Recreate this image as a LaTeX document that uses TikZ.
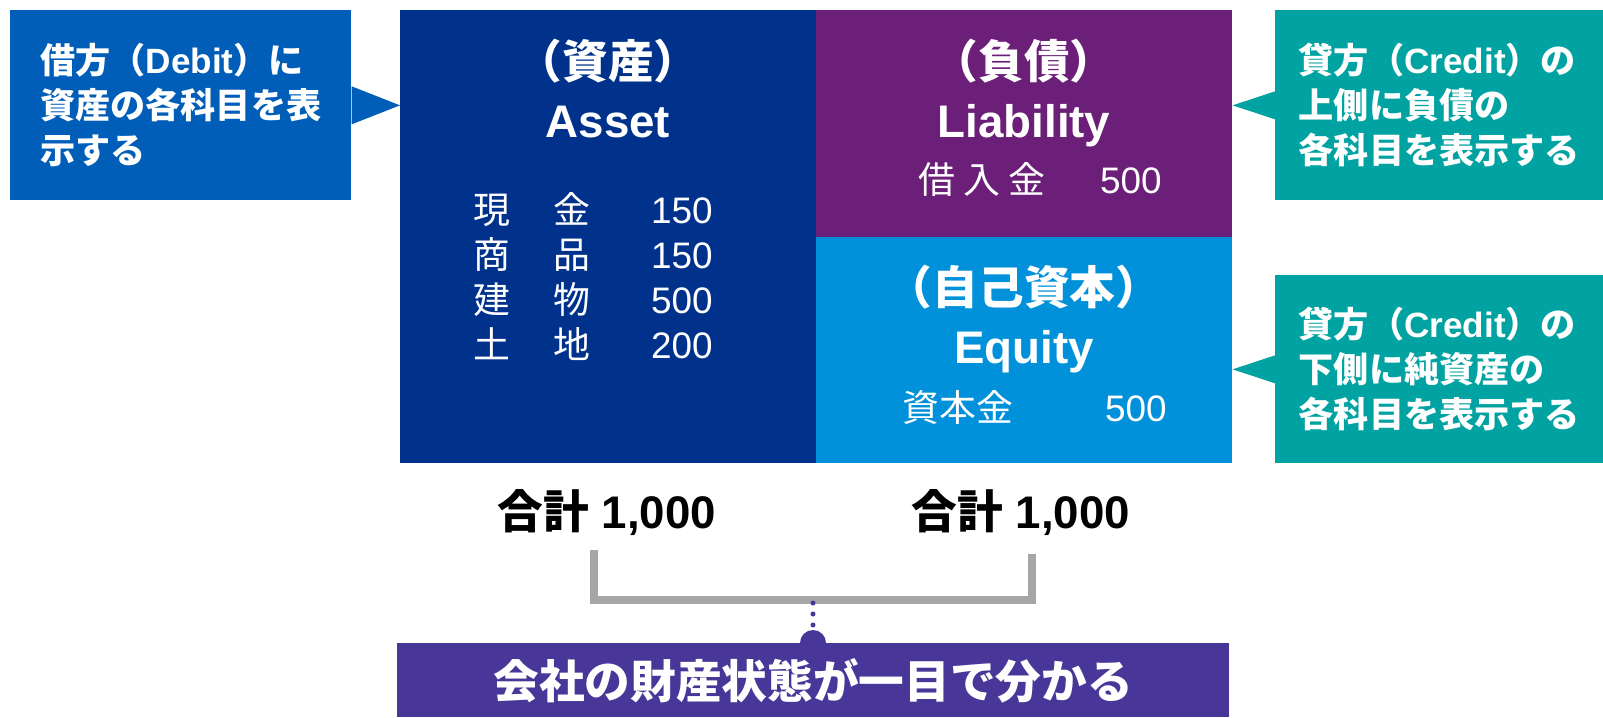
\documentclass[tikz,border=0pt]{standalone}
\usepackage{fontspec}
\setmainfont{Liberation Sans}
\newfontfamily\jpfont{Noto Sans CJK JP}
\newcommand{\jp}[1]{{\jpfont #1}}
\usetikzlibrary{positioning}
\definecolor{debitblue}{RGB}{0,94,184}
\definecolor{assetblue}{RGB}{0,50,140}
\definecolor{liabpurple}{RGB}{108,31,120}
\definecolor{equityblue}{RGB}{0,145,218}
\definecolor{creditteal}{RGB}{0,163,161}
\definecolor{sumpurple}{RGB}{72,54,152}
\definecolor{bracketgray}{RGB}{166,166,166}

\begin{document}
\begin{tikzpicture}[x=0.02cm,y=-0.02cm]
    \tikzset{block/.style = {shape=rectangle,anchor=north west,inner sep=0pt}}
    \tikzset{calloutbox/.style = {block,align=left,text=white,font=\bfseries\fontsize{20}{25.6}\selectfont}}
    \tikzset{title/.style = {text=white,inner sep=0pt,font=\bfseries\fontsize{26}{30}\selectfont}}
    \tikzset{item/.style = {text=white,inner sep=0pt,anchor=base,font=\fontsize{21}{25}\selectfont}}
    \tikzset{total/.style = {inner sep=0pt,anchor=base,font=\bfseries\fontsize{26}{30}\selectfont}}
    \tikzset{bracketline/.style = {draw=bracketgray,line width=0.16cm}}
    \tikzset{dotline/.style = {draw=sumpurple,line width=0.1cm,line cap=round,dash pattern=on 0pt off 0.22cm}}
    \useasboundingbox (0,0) rectangle (1603,717);
    % balance sheet
    \node[block,fill=assetblue,minimum width=8.32cm,minimum height=9.06cm] (asset) at (400,10) {};
    \node[block,fill=liabpurple,minimum width=8.32cm,minimum height=4.54cm] (liab) at (816,10) {};
    \node[block,fill=equityblue,minimum width=8.32cm,minimum height=4.52cm] (equity) at (816,237) {};
    % callouts
    \node[calloutbox,fill=debitblue,minimum width=6.82cm,minimum height=3.8cm] (debit) at (10,10)
        {\jp{借方（}Debit\jp{）に}\\\jp{資産の各科目を表}\\\jp{示する}};
    \node[calloutbox,fill=creditteal,minimum width=6.56cm,minimum height=3.8cm] (credit1) at (1275,10)
        {\jp{貸方（}Credit\jp{）の}\\\jp{上側に負債の}\\\jp{各科目を表示する}};
    \node[calloutbox,fill=creditteal,minimum width=6.56cm,minimum height=3.76cm] (credit2) at (1275,275)
        {\jp{貸方（}Credit\jp{）の}\\\jp{下側に純資産の}\\\jp{各科目を表示する}};
    \fill[debitblue] ([yshift=0.38cm]debit.east) -- (debit.east -| asset.west) -- ([yshift=-0.38cm]debit.east) -- cycle;
    \fill[creditteal] ([yshift=0.28cm]credit1.west) -- (credit1.west -| liab.east) -- ([yshift=-0.28cm]credit1.west) -- cycle;
    \fill[creditteal] ([yshift=0.28cm]credit2.west) -- (credit2.west -| equity.east) -- ([yshift=-0.28cm]credit2.west) -- cycle;
    % titles
    \node[title] (assetjp) at (608,61) {\jp{（資産）}};
    \node[title,anchor=base] (asseten) at (608,137) {Asset};
    \node[title] (liabjp) at (1024,61) {\jp{（負債）}};
    \node[title,anchor=base] (liaben) at (1024,137) {Liability};
    \node[title] (equityjp) at (1024,287) {\jp{（自己資本）}};
    \node[title,anchor=base] (equityen) at (1024,363) {Equity};
    % items
    \foreach \a/\b/\v [count=\i] in {現/金/150,商/品/150,建/物/500,土/地/200}{
        \node[item] (ka\i) at (492,178+45*\i) {\jp{\a}};
        \node[item] (kb\i) at (572,178+45*\i) {\jp{\b}};
        \node[item,anchor=base east] (val\i) at (713,178+45*\i) {\v};
    }
    \node[item,anchor=base west] (loan) at (918,193) {\jp{借 入 金}};
    \node[item,anchor=base east] (loanval) at (1162,193) {500};
    \node[item,anchor=base west] (capital) at (902,421) {\jp{資本金}};
    \node[item,anchor=base east] (capitalval) at (1167,421) {500};
    % totals
    \node[total] (totalL) at (607,528) {\jp{合計} 1,000};
    \node[total] (totalR) at (1021,528) {\jp{合計} 1,000};
    \coordinate (brL) at (594,550);
    \coordinate (brR) at (1032,554);
    \coordinate (brM) at (813,599.5);
    \draw[bracketline] (brL) |- (brM) -| (brR);
    % summary
    \node[circle,fill=sumpurple,minimum size=0.52cm,inner sep=0pt] (bump) at (813,643) {};
    \draw[dotline] ([yshift=-0.07cm]brM) -- (bump.north);
    \node[block,fill=sumpurple,minimum width=16.64cm,minimum height=1.48cm,text=white,
        font=\bfseries\fontsize{26}{30}\selectfont] (summary) at (397,643) {\jp{会社の財産状態が一目で分かる}};
\end{tikzpicture}
\end{document}
